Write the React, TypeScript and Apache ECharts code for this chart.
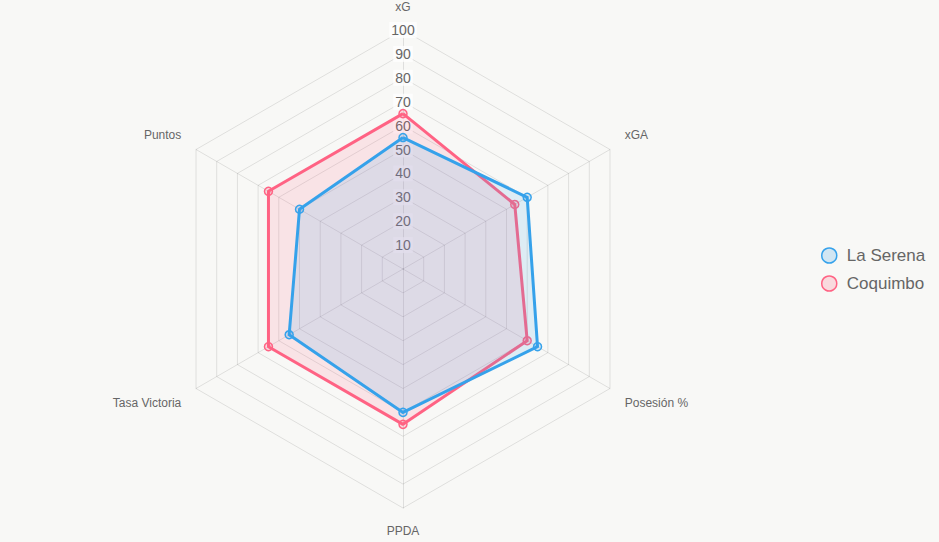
import React, { useEffect, useRef } from "react";
import * as echarts from "echarts";

// Indicators in the reference's clockwise order starting at the top
const indicators = ["xG", "xGA", "Posesión %", "PPDA", "Tasa Victoria", "Puntos"];
const laSerena = [55, 60, 65, 60, 55, 50];
const coquimbo = [65, 54, 60, 65, 65, 65];
const seriesNames = ["La Serena", "Coquimbo"];
const maxValue = 100;

const BLUE = "rgb(54, 162, 235)";
const BLUE_FILL = "rgba(54, 162, 235, 0.2)";
const PINK = "rgb(255, 99, 132)";
const PINK_FILL = "rgba(255, 99, 132, 0.2)";

// ECharts lays indicators counter-clockwise; reorder to get clockwise placement
const ccwOrder = [0, 5, 4, 3, 2, 1];
const reorder = (arr: any[]) => ccwOrder.map((i) => arr[i]);

export default function App() {
  const ref = useRef<HTMLDivElement>(null);
  useEffect(() => {
    document.body.style.margin = "0";
    document.body.style.background = "#f8f8f6";
    if (!ref.current) return;
    const chart = echarts.init(ref.current, null, { renderer: "svg" });
    const names = reorder(indicators);
    const vAlignFor = (name: string) => {
      if (name === "Puntos" || name === "xGA") return "bottom";
      if (name === "Tasa Victoria" || name === "Posesión %") return "top";
      return undefined;
    };
    const indicatorOpts = names.map((n: string, idx: number) => {
      const o: any = { name: n, max: maxValue, min: 0 };
      const va = vAlignFor(n);
      if (va) o.nameTextStyle = { verticalAlign: va };
      if (idx === 0) {
        o.axisLabel = {
          show: true,
          showMinLabel: false,
          color: "#666",
          fontSize: 14,
          fontFamily: "Liberation Sans, Arial, sans-serif",
          margin: 0,
          align: "center",
          verticalAlign: "middle",
          backgroundColor: "rgba(255,255,255,0.75)",
          padding: [1, 2],
        };
      }
      return o;
    });
    const lineOpts = (color: string, fill: string) => ({
      lineStyle: { color, width: 3 },
      areaStyle: { color: fill },
      itemStyle: { color: fill, borderColor: color, borderWidth: 1.5 },
      symbol: "circle",
      symbolSize: 8,
    });
    chart.setOption({
      animation: false,
      backgroundColor: "#f8f8f6",
      legend: {
        orient: "vertical",
        left: 816,
        top: 242,
        itemWidth: 25,
        itemHeight: 15,
        itemGap: 11,
        icon: "circle",
        textStyle: { color: "#666", fontSize: 17, fontFamily: "Liberation Sans, Arial, sans-serif" },
        data: [
          { name: seriesNames[0], itemStyle: { color: BLUE_FILL, borderColor: BLUE, borderWidth: 1.5 } },
          { name: seriesNames[1], itemStyle: { color: PINK_FILL, borderColor: PINK, borderWidth: 1.5 } },
        ],
      },
      radar: {
        center: [403, 269],
        radius: 239,
        startAngle: 90,
        splitNumber: 10,
        shape: "polygon",
        nameGap: 17,
        axisName: { color: "#666", fontSize: 12, fontFamily: "Liberation Sans, Arial, sans-serif" },
        axisLine: { lineStyle: { color: "rgba(0,0,0,0.1)" } },
        splitLine: { lineStyle: { color: "rgba(0,0,0,0.1)" } },
        splitArea: { show: false },
        axisLabel: { show: false },
        indicator: indicatorOpts,
      },
      series: [
        {
          type: "radar",
          name: seriesNames[1],
          z: 2,
          ...lineOpts(PINK, PINK_FILL),
          data: [{ name: seriesNames[1], value: reorder(coquimbo) }],
        },
        {
          type: "radar",
          name: seriesNames[0],
          z: 3,
          ...lineOpts(BLUE, BLUE_FILL),
          data: [{ name: seriesNames[0], value: reorder(laSerena) }],
        },
      ],
    });
    return () => chart.dispose();
  }, []);
  return <div ref={ref} style={{ width: 939, height: 542 }} />;
}
